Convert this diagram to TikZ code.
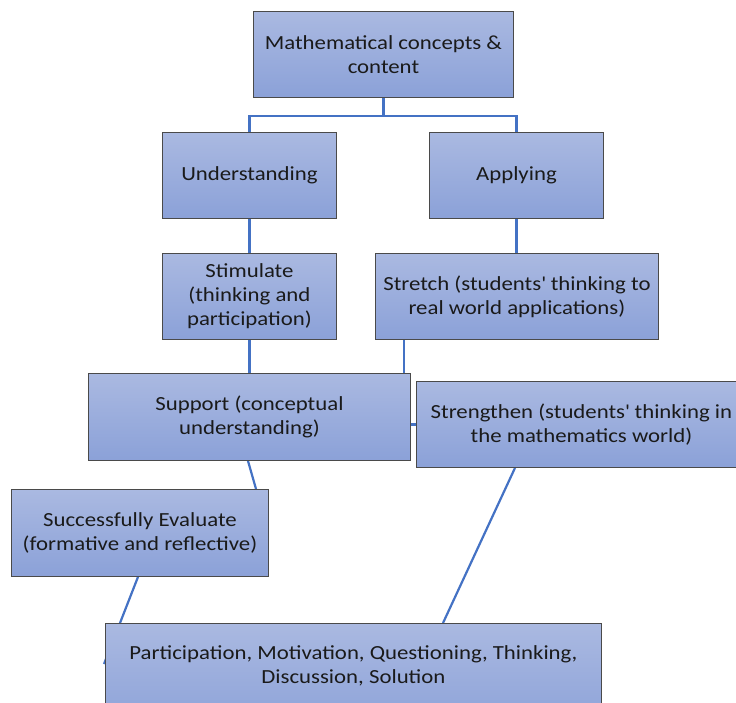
\documentclass[tikz,border=0pt]{standalone}
\usepackage{fontspec}
\setmainfont{Carlito}[FakeStretch=1.14]
\usetikzlibrary{backgrounds,calc}
\definecolor{boxtop}{HTML}{AAB9E1}
\definecolor{boxbot}{HTML}{8BA1D8}
\definecolor{boxline}{HTML}{4A4A4A}
\definecolor{conn}{HTML}{4472C4}
\definecolor{txt}{HTML}{1A1A1A}
\tikzset{
  box/.style={draw=boxline, line width=0.9pt, top color=boxtop, bottom color=boxbot,
    anchor=north west, align=center, text=txt, inner sep=2pt,
    font=\fontsize{20}{24}\selectfont},
  conline/.style={draw=conn, line width=2.2pt}
}
\begin{document}
\begin{tikzpicture}[x=1pt,y=-1pt]
\useasboundingbox (0,0) rectangle (736,702);
\clip (0,0) rectangle (736,702);
\node[box, minimum width=260pt, minimum height=86pt] (math) at (253,11) {Mathematical concepts \&\\content};
\node[box, minimum width=174pt, minimum height=86pt] (und) at (162,132) {Understanding};
\node[box, minimum width=174pt, minimum height=86pt] (app) at (429,132) {Applying};
\node[box, minimum width=174pt, minimum height=86pt] (stim) at (162,253) {Stimulate\\(thinking and\\participation)};
\node[box, minimum width=283pt, minimum height=86pt] (stre) at (375,253) {Stretch (students\textquotesingle\ thinking to\\real world applications)};
\node[box, minimum width=322pt, minimum height=87pt] (sup) at (88,373) {Support (conceptual\\understanding)};
\node[box, minimum width=330pt, minimum height=86pt] (strg) at (416,381) {Strengthen (students\textquotesingle\ thinking in\\the mathematics world)};
\node[box, minimum width=257pt, minimum height=87pt] (se) at (11,489) {Successfully Evaluate\\(formative and reflective)};
\node[box, minimum width=496pt, minimum height=110pt, text depth=28pt] (bot) at (105,623) {Participation, Motivation, Questioning, Thinking,\\Discussion, Solution};
\coordinate (stretchfoot) at ($(stre.south west)+(29,0)$);
\coordinate (supfoot) at ($(sup.south west)+(160,0)$);
\coordinate (setop) at ($(se.north west)+(245,0)$);
\coordinate (sefoot) at ($(se.south west)+(127,0)$);
\coordinate (botedge) at ($(bot.north west)+(-1,41)$);
\coordinate (strgfoot) at ($(strg.south west)+(99,0)$);
\coordinate (bottop) at ($(bot.north west)+(338,0)$);
\begin{scope}[on background layer]
\draw[conline] (math.south) -- ++(0,18) -| (und.north);
\draw[conline] (math.south) -- ++(0,18) -| (app.north);
\draw[conline] (und.south) -- (stim.north);
\draw[conline] (app.south) -- (app.south |- stre.north);
\draw[conline] (stim.south) -- (stim.south |- sup.north);
\draw[conline] (stretchfoot) -- (stretchfoot |- sup.north);
\draw[conline] (strg.west) -- (strg.west -| sup.east);
\draw[conline] (supfoot) -- (setop);
\draw[conline] (sefoot) -- (botedge);
\draw[conline] (strgfoot) -- (bottop);
\end{scope}
\end{tikzpicture}
\end{document}
